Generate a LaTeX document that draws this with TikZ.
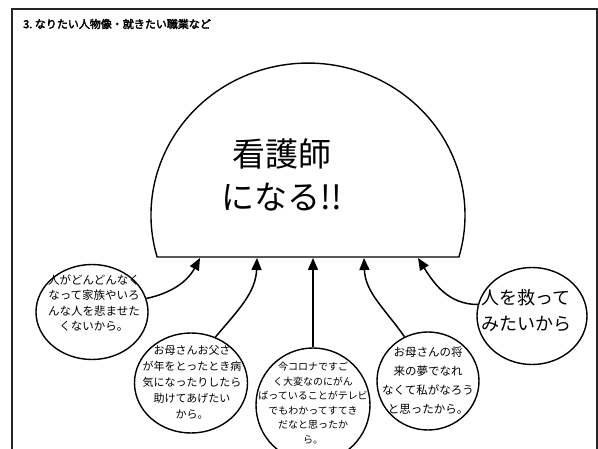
\documentclass[tikz,border=0pt]{standalone}
\usepackage{fontspec}
\newfontfamily\jp{Noto Sans CJK JP}
\newfontfamily\jpb[FakeBold=3]{Noto Sans CJK JP}
\usetikzlibrary{shapes.geometric,arrows.meta}
\begin{document}
\begin{tikzpicture}[x=1pt,y=1pt,
  bub/.style={draw, ellipse, line width=1.4pt, inner sep=0pt},
  txt/.style={font=\jp, align=center, inner sep=0pt},
  conn/.style={line width=1.5pt, -{Triangle[length=12pt,width=10pt]}},
  frame/.style={draw=black!85, line width=2pt}]
\useasboundingbox (0,0) rectangle (598,448);
\fill[white] (0,0) rectangle (598,448);
% frame
\draw[frame] (12,-5) -- (12,439) -- (597,439) -- (597,-5);
\node[font=\jpb\fontsize{11}{13}\selectfont, anchor=west, inner sep=0pt] (title) at (23,424) {3.\ なりたい人物像・就きたい職業など};
% dome
\draw[line width=1.4pt] (157.1,191) arc[start angle=196, end angle=-16, x radius=157, y radius=152] -- cycle;
\node[txt, font=\jp\fontsize{33}{43}\selectfont] (goal) at (282,273) {看護師\\になる!!};
% arrow targets on the dome base
\coordinate (t1) at (200,190);
\coordinate (t2) at (257,190);
\coordinate (t3) at (313,190);
\coordinate (t4) at (364,190);
\coordinate (t5) at (418,190);
% bubbles
\node[bub, minimum width=112pt, minimum height=95pt] (c1) at (92,136) {};
\node[bub, minimum width=113pt, minimum height=100pt] (c2) at (191,65) {};
\node[bub, minimum width=114pt, minimum height=114pt] (c3) at (313,43) {};
\node[bub, minimum width=102pt, minimum height=98pt] (c4) at (428,67) {};
\node[bub, minimum width=110pt, minimum height=97pt] (c5) at (532,132) {};
% bubble texts
\node[txt, font=\jp\fontsize{11.5}{15.5}\selectfont] (x1) at (94,145) {人がどんどんなく\\なって家族やいろ\\んな人を悲ませた\\くないから。};
\node[txt, font=\jp\fontsize{11}{16}\selectfont] (x2) at (192,66) {お母さんお父さ\\が年をとったとき病\\気になったりしたら\\助けてあげたい\\から。};
\node[txt, font=\jp\fontsize{10}{14.5}\selectfont] (x3) at (313,45) {今コロナですご\\く大変なのにがん\\ばっていることがテレビ\\でもわかってすてき\\だなと思ったか\\ら。};
\node[txt, font=\jp\fontsize{11.5}{19}\selectfont] (x4) at (428,67) {お母さんの将\\来の夢でなれ\\なくて私がなろう\\と思ったから。};
\node[txt, font=\jp\fontsize{18}{26}\selectfont] (x5) at (526,137) {人を救って\\みたいから};
% connectors
\draw[conn] (c1.14) to[out=12, in=-118] (t1);
\draw[conn] (c2.62) to[out=50, in=-92] (t2);
\draw[conn] (c3.north) -- (t3);
\draw[conn] (c4.118) to[out=125, in=-88] (t4);
\draw[conn] (c5.168) to[out=180, in=-58] (t5);
\end{tikzpicture}
\end{document}
